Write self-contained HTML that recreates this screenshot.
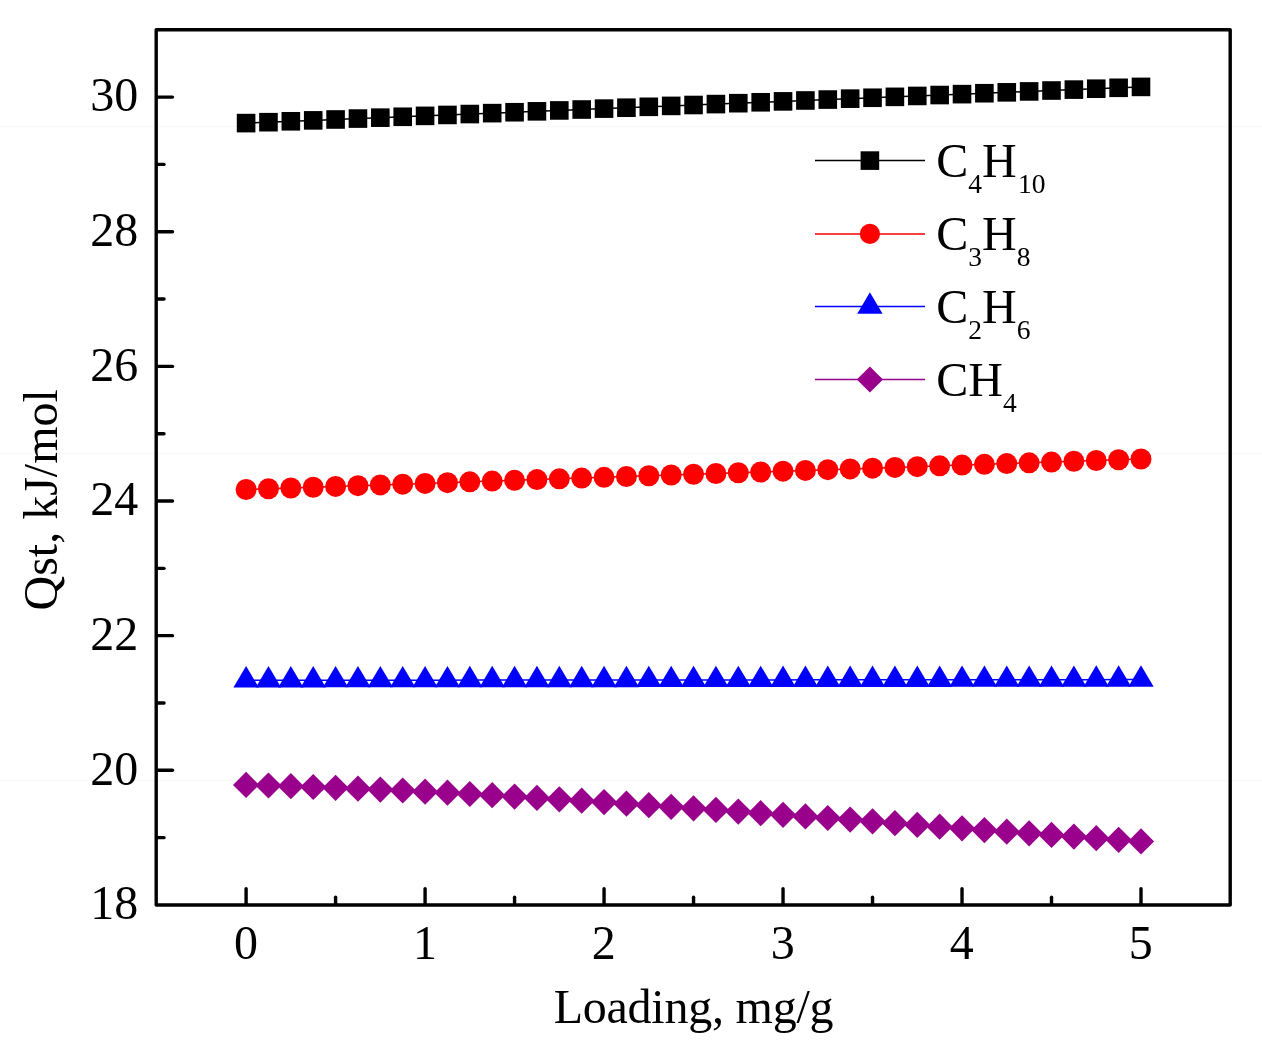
<!DOCTYPE html>
<html lang="en"><head><meta charset="utf-8"><title>Qst vs Loading</title>
<style>html,body{margin:0;padding:0;background:#fff;}svg{display:block;}text{font-family:"Liberation Serif", "Times New Roman", serif;fill:#000;}</style>
</head><body>
<svg width="1262" height="1054" viewBox="0 0 1262 1054">
<rect x="0" y="0" width="1262" height="1054" fill="#ffffff"/>
<g stroke="#f8f8f8" stroke-width="1"><line x1="0" y1="126.4" x2="1262" y2="126.4"/><line x1="0" y1="453.4" x2="1262" y2="453.4"/><line x1="0" y1="780.4" x2="1262" y2="780.4"/></g>
<g id="s-c4h10">
<polyline points="246.1,123.1 268.47,122.19 290.84,121.29 313.22,120.38 335.59,119.48 357.96,118.57 380.33,117.67 402.71,116.76 425.08,115.86 447.45,114.95 469.82,114.05 492.2,113.14 514.57,112.24 536.94,111.33 559.31,110.43 581.69,109.52 604.06,108.62 626.43,107.71 648.8,106.81 671.18,105.9 693.55,105 715.92,104.09 738.29,103.19 760.67,102.28 783.04,101.38 805.41,100.47 827.78,99.57 850.16,98.66 872.53,97.76 894.9,96.85 917.27,95.95 939.65,95.04 962.02,94.14 984.39,93.23 1006.76,92.33 1029.14,91.42 1051.51,90.52 1073.88,89.61 1096.25,88.71 1118.63,87.8 1141,86.9" fill="none" stroke="#000" stroke-width="1.5"/>
<rect x="236.8" y="113.8" width="18.6" height="18.6" fill="#000"/>
<rect x="259.17" y="112.89" width="18.6" height="18.6" fill="#000"/>
<rect x="281.54" y="111.99" width="18.6" height="18.6" fill="#000"/>
<rect x="303.92" y="111.08" width="18.6" height="18.6" fill="#000"/>
<rect x="326.29" y="110.18" width="18.6" height="18.6" fill="#000"/>
<rect x="348.66" y="109.27" width="18.6" height="18.6" fill="#000"/>
<rect x="371.03" y="108.37" width="18.6" height="18.6" fill="#000"/>
<rect x="393.41" y="107.46" width="18.6" height="18.6" fill="#000"/>
<rect x="415.78" y="106.56" width="18.6" height="18.6" fill="#000"/>
<rect x="438.15" y="105.65" width="18.6" height="18.6" fill="#000"/>
<rect x="460.52" y="104.75" width="18.6" height="18.6" fill="#000"/>
<rect x="482.9" y="103.84" width="18.6" height="18.6" fill="#000"/>
<rect x="505.27" y="102.94" width="18.6" height="18.6" fill="#000"/>
<rect x="527.64" y="102.03" width="18.6" height="18.6" fill="#000"/>
<rect x="550.01" y="101.13" width="18.6" height="18.6" fill="#000"/>
<rect x="572.39" y="100.22" width="18.6" height="18.6" fill="#000"/>
<rect x="594.76" y="99.32" width="18.6" height="18.6" fill="#000"/>
<rect x="617.13" y="98.41" width="18.6" height="18.6" fill="#000"/>
<rect x="639.5" y="97.51" width="18.6" height="18.6" fill="#000"/>
<rect x="661.88" y="96.6" width="18.6" height="18.6" fill="#000"/>
<rect x="684.25" y="95.7" width="18.6" height="18.6" fill="#000"/>
<rect x="706.62" y="94.79" width="18.6" height="18.6" fill="#000"/>
<rect x="729" y="93.89" width="18.6" height="18.6" fill="#000"/>
<rect x="751.37" y="92.98" width="18.6" height="18.6" fill="#000"/>
<rect x="773.74" y="92.08" width="18.6" height="18.6" fill="#000"/>
<rect x="796.11" y="91.17" width="18.6" height="18.6" fill="#000"/>
<rect x="818.49" y="90.27" width="18.6" height="18.6" fill="#000"/>
<rect x="840.86" y="89.36" width="18.6" height="18.6" fill="#000"/>
<rect x="863.23" y="88.46" width="18.6" height="18.6" fill="#000"/>
<rect x="885.6" y="87.55" width="18.6" height="18.6" fill="#000"/>
<rect x="907.98" y="86.65" width="18.6" height="18.6" fill="#000"/>
<rect x="930.35" y="85.74" width="18.6" height="18.6" fill="#000"/>
<rect x="952.72" y="84.84" width="18.6" height="18.6" fill="#000"/>
<rect x="975.09" y="83.93" width="18.6" height="18.6" fill="#000"/>
<rect x="997.47" y="83.03" width="18.6" height="18.6" fill="#000"/>
<rect x="1019.84" y="82.12" width="18.6" height="18.6" fill="#000"/>
<rect x="1042.21" y="81.22" width="18.6" height="18.6" fill="#000"/>
<rect x="1064.58" y="80.31" width="18.6" height="18.6" fill="#000"/>
<rect x="1086.95" y="79.41" width="18.6" height="18.6" fill="#000"/>
<rect x="1109.33" y="78.5" width="18.6" height="18.6" fill="#000"/>
<rect x="1131.7" y="77.6" width="18.6" height="18.6" fill="#000"/>
</g>
<g id="s-c3h8">
<polyline points="246.1,489.5 268.47,488.74 290.84,487.98 313.22,487.21 335.59,486.45 357.96,485.69 380.33,484.93 402.71,484.16 425.08,483.4 447.45,482.64 469.82,481.87 492.2,481.11 514.57,480.35 536.94,479.59 559.31,478.83 581.69,478.06 604.06,477.3 626.43,476.54 648.8,475.78 671.18,475.01 693.55,474.25 715.92,473.49 738.29,472.73 760.67,471.96 783.04,471.2 805.41,470.44 827.78,469.68 850.16,468.91 872.53,468.15 894.9,467.39 917.27,466.63 939.65,465.86 962.02,465.1 984.39,464.34 1006.76,463.58 1029.14,462.81 1051.51,462.05 1073.88,461.29 1096.25,460.53 1118.63,459.76 1141,459" fill="none" stroke="#ff0000" stroke-width="1.5"/>
<circle cx="246.1" cy="489.5" r="10.5" fill="#ff0000"/>
<circle cx="268.47" cy="488.74" r="10.5" fill="#ff0000"/>
<circle cx="290.84" cy="487.98" r="10.5" fill="#ff0000"/>
<circle cx="313.22" cy="487.21" r="10.5" fill="#ff0000"/>
<circle cx="335.59" cy="486.45" r="10.5" fill="#ff0000"/>
<circle cx="357.96" cy="485.69" r="10.5" fill="#ff0000"/>
<circle cx="380.33" cy="484.93" r="10.5" fill="#ff0000"/>
<circle cx="402.71" cy="484.16" r="10.5" fill="#ff0000"/>
<circle cx="425.08" cy="483.4" r="10.5" fill="#ff0000"/>
<circle cx="447.45" cy="482.64" r="10.5" fill="#ff0000"/>
<circle cx="469.82" cy="481.87" r="10.5" fill="#ff0000"/>
<circle cx="492.2" cy="481.11" r="10.5" fill="#ff0000"/>
<circle cx="514.57" cy="480.35" r="10.5" fill="#ff0000"/>
<circle cx="536.94" cy="479.59" r="10.5" fill="#ff0000"/>
<circle cx="559.31" cy="478.83" r="10.5" fill="#ff0000"/>
<circle cx="581.69" cy="478.06" r="10.5" fill="#ff0000"/>
<circle cx="604.06" cy="477.3" r="10.5" fill="#ff0000"/>
<circle cx="626.43" cy="476.54" r="10.5" fill="#ff0000"/>
<circle cx="648.8" cy="475.78" r="10.5" fill="#ff0000"/>
<circle cx="671.18" cy="475.01" r="10.5" fill="#ff0000"/>
<circle cx="693.55" cy="474.25" r="10.5" fill="#ff0000"/>
<circle cx="715.92" cy="473.49" r="10.5" fill="#ff0000"/>
<circle cx="738.29" cy="472.73" r="10.5" fill="#ff0000"/>
<circle cx="760.67" cy="471.96" r="10.5" fill="#ff0000"/>
<circle cx="783.04" cy="471.2" r="10.5" fill="#ff0000"/>
<circle cx="805.41" cy="470.44" r="10.5" fill="#ff0000"/>
<circle cx="827.78" cy="469.68" r="10.5" fill="#ff0000"/>
<circle cx="850.16" cy="468.91" r="10.5" fill="#ff0000"/>
<circle cx="872.53" cy="468.15" r="10.5" fill="#ff0000"/>
<circle cx="894.9" cy="467.39" r="10.5" fill="#ff0000"/>
<circle cx="917.27" cy="466.63" r="10.5" fill="#ff0000"/>
<circle cx="939.65" cy="465.86" r="10.5" fill="#ff0000"/>
<circle cx="962.02" cy="465.1" r="10.5" fill="#ff0000"/>
<circle cx="984.39" cy="464.34" r="10.5" fill="#ff0000"/>
<circle cx="1006.76" cy="463.58" r="10.5" fill="#ff0000"/>
<circle cx="1029.14" cy="462.81" r="10.5" fill="#ff0000"/>
<circle cx="1051.51" cy="462.05" r="10.5" fill="#ff0000"/>
<circle cx="1073.88" cy="461.29" r="10.5" fill="#ff0000"/>
<circle cx="1096.25" cy="460.53" r="10.5" fill="#ff0000"/>
<circle cx="1118.63" cy="459.76" r="10.5" fill="#ff0000"/>
<circle cx="1141" cy="459" r="10.5" fill="#ff0000"/>
</g>
<g id="s-c2h6">
<polyline points="246.1,680.3 268.47,680.28 290.84,680.26 313.22,680.25 335.59,680.23 357.96,680.21 380.33,680.19 402.71,680.18 425.08,680.16 447.45,680.14 469.82,680.12 492.2,680.11 514.57,680.09 536.94,680.07 559.31,680.05 581.69,680.04 604.06,680.02 626.43,680 648.8,679.99 671.18,679.97 693.55,679.95 715.92,679.93 738.29,679.91 760.67,679.9 783.04,679.88 805.41,679.86 827.78,679.85 850.16,679.83 872.53,679.81 894.9,679.79 917.27,679.78 939.65,679.76 962.02,679.74 984.39,679.72 1006.76,679.71 1029.14,679.69 1051.51,679.67 1073.88,679.65 1096.25,679.64 1118.63,679.62 1141,679.6" fill="none" stroke="#0000ff" stroke-width="1.5"/>
<polygon points="246.1,666.03 258.8,687.43 233.4,687.43" fill="#0000ff"/>
<polygon points="268.47,666.02 281.17,687.42 255.77,687.42" fill="#0000ff"/>
<polygon points="290.84,666 303.54,687.4 278.14,687.4" fill="#0000ff"/>
<polygon points="313.22,665.98 325.92,687.38 300.52,687.38" fill="#0000ff"/>
<polygon points="335.59,665.96 348.29,687.36 322.89,687.36" fill="#0000ff"/>
<polygon points="357.96,665.95 370.66,687.35 345.26,687.35" fill="#0000ff"/>
<polygon points="380.33,665.93 393.03,687.33 367.63,687.33" fill="#0000ff"/>
<polygon points="402.71,665.91 415.41,687.31 390.01,687.31" fill="#0000ff"/>
<polygon points="425.08,665.89 437.78,687.29 412.38,687.29" fill="#0000ff"/>
<polygon points="447.45,665.88 460.15,687.28 434.75,687.28" fill="#0000ff"/>
<polygon points="469.82,665.86 482.52,687.26 457.12,687.26" fill="#0000ff"/>
<polygon points="492.2,665.84 504.9,687.24 479.5,687.24" fill="#0000ff"/>
<polygon points="514.57,665.82 527.27,687.22 501.87,687.22" fill="#0000ff"/>
<polygon points="536.94,665.81 549.64,687.21 524.24,687.21" fill="#0000ff"/>
<polygon points="559.31,665.79 572.01,687.19 546.61,687.19" fill="#0000ff"/>
<polygon points="581.69,665.77 594.39,687.17 568.99,687.17" fill="#0000ff"/>
<polygon points="604.06,665.75 616.76,687.15 591.36,687.15" fill="#0000ff"/>
<polygon points="626.43,665.74 639.13,687.14 613.73,687.14" fill="#0000ff"/>
<polygon points="648.8,665.72 661.5,687.12 636.1,687.12" fill="#0000ff"/>
<polygon points="671.18,665.7 683.88,687.1 658.48,687.1" fill="#0000ff"/>
<polygon points="693.55,665.68 706.25,687.08 680.85,687.08" fill="#0000ff"/>
<polygon points="715.92,665.67 728.62,687.07 703.22,687.07" fill="#0000ff"/>
<polygon points="738.29,665.65 751,687.05 725.59,687.05" fill="#0000ff"/>
<polygon points="760.67,665.63 773.37,687.03 747.97,687.03" fill="#0000ff"/>
<polygon points="783.04,665.61 795.74,687.01 770.34,687.01" fill="#0000ff"/>
<polygon points="805.41,665.6 818.11,687 792.71,687" fill="#0000ff"/>
<polygon points="827.78,665.58 840.49,686.98 815.08,686.98" fill="#0000ff"/>
<polygon points="850.16,665.56 862.86,686.96 837.46,686.96" fill="#0000ff"/>
<polygon points="872.53,665.54 885.23,686.94 859.83,686.94" fill="#0000ff"/>
<polygon points="894.9,665.53 907.6,686.93 882.2,686.93" fill="#0000ff"/>
<polygon points="917.27,665.51 929.98,686.91 904.57,686.91" fill="#0000ff"/>
<polygon points="939.65,665.49 952.35,686.89 926.95,686.89" fill="#0000ff"/>
<polygon points="962.02,665.47 974.72,686.87 949.32,686.87" fill="#0000ff"/>
<polygon points="984.39,665.46 997.09,686.86 971.69,686.86" fill="#0000ff"/>
<polygon points="1006.76,665.44 1019.47,686.84 994.06,686.84" fill="#0000ff"/>
<polygon points="1029.14,665.42 1041.84,686.82 1016.44,686.82" fill="#0000ff"/>
<polygon points="1051.51,665.4 1064.21,686.8 1038.81,686.8" fill="#0000ff"/>
<polygon points="1073.88,665.39 1086.58,686.79 1061.18,686.79" fill="#0000ff"/>
<polygon points="1096.25,665.37 1108.95,686.77 1083.55,686.77" fill="#0000ff"/>
<polygon points="1118.63,665.35 1131.33,686.75 1105.93,686.75" fill="#0000ff"/>
<polygon points="1141,665.33 1153.7,686.73 1128.3,686.73" fill="#0000ff"/>
</g>
<g id="s-ch4">
<polyline points="246.1,784.9 268.47,785.5 290.84,786.2 313.22,787 335.59,787.8 357.96,788.7 380.33,789.6 402.71,790.5 425.08,791.7 447.45,792.7 469.82,794 492.2,795.2 514.57,796.6 536.94,797.97 559.31,799.35 581.69,800.73 604.06,802.1 626.43,803.66 648.8,805.22 671.18,806.78 693.55,808.34 715.92,809.9 738.29,811.53 760.67,813.17 783.04,814.8 805.41,816.4 827.78,818 850.16,819.6 872.53,821.37 894.9,823.13 917.27,824.9 939.65,826.63 962.02,828.37 984.39,830.1 1006.76,831.71 1029.14,833.33 1051.51,834.94 1073.88,836.56 1096.25,838.17 1118.63,839.79 1141,841.4" fill="none" stroke="#99008c" stroke-width="1.5"/>
<polygon points="246.1,771.8 259.2,784.9 246.1,798 233,784.9" fill="#99008c"/>
<polygon points="268.47,772.4 281.57,785.5 268.47,798.6 255.37,785.5" fill="#99008c"/>
<polygon points="290.84,773.1 303.94,786.2 290.84,799.3 277.74,786.2" fill="#99008c"/>
<polygon points="313.22,773.9 326.32,787 313.22,800.1 300.12,787" fill="#99008c"/>
<polygon points="335.59,774.7 348.69,787.8 335.59,800.9 322.49,787.8" fill="#99008c"/>
<polygon points="357.96,775.6 371.06,788.7 357.96,801.8 344.86,788.7" fill="#99008c"/>
<polygon points="380.33,776.5 393.44,789.6 380.33,802.7 367.23,789.6" fill="#99008c"/>
<polygon points="402.71,777.4 415.81,790.5 402.71,803.6 389.61,790.5" fill="#99008c"/>
<polygon points="425.08,778.6 438.18,791.7 425.08,804.8 411.98,791.7" fill="#99008c"/>
<polygon points="447.45,779.6 460.55,792.7 447.45,805.8 434.35,792.7" fill="#99008c"/>
<polygon points="469.82,780.9 482.93,794 469.82,807.1 456.72,794" fill="#99008c"/>
<polygon points="492.2,782.1 505.3,795.2 492.2,808.3 479.1,795.2" fill="#99008c"/>
<polygon points="514.57,783.5 527.67,796.6 514.57,809.7 501.47,796.6" fill="#99008c"/>
<polygon points="536.94,784.87 550.04,797.97 536.94,811.07 523.84,797.97" fill="#99008c"/>
<polygon points="559.31,786.25 572.41,799.35 559.31,812.45 546.21,799.35" fill="#99008c"/>
<polygon points="581.69,787.62 594.79,800.73 581.69,813.83 568.59,800.73" fill="#99008c"/>
<polygon points="604.06,789 617.16,802.1 604.06,815.2 590.96,802.1" fill="#99008c"/>
<polygon points="626.43,790.56 639.53,803.66 626.43,816.76 613.33,803.66" fill="#99008c"/>
<polygon points="648.8,792.12 661.9,805.22 648.8,818.32 635.7,805.22" fill="#99008c"/>
<polygon points="671.18,793.68 684.28,806.78 671.18,819.88 658.08,806.78" fill="#99008c"/>
<polygon points="693.55,795.24 706.65,808.34 693.55,821.44 680.45,808.34" fill="#99008c"/>
<polygon points="715.92,796.8 729.02,809.9 715.92,823 702.82,809.9" fill="#99008c"/>
<polygon points="738.29,798.43 751.39,811.53 738.29,824.63 725.19,811.53" fill="#99008c"/>
<polygon points="760.67,800.07 773.77,813.17 760.67,826.27 747.57,813.17" fill="#99008c"/>
<polygon points="783.04,801.7 796.14,814.8 783.04,827.9 769.94,814.8" fill="#99008c"/>
<polygon points="805.41,803.3 818.51,816.4 805.41,829.5 792.31,816.4" fill="#99008c"/>
<polygon points="827.78,804.9 840.88,818 827.78,831.1 814.68,818" fill="#99008c"/>
<polygon points="850.16,806.5 863.26,819.6 850.16,832.7 837.06,819.6" fill="#99008c"/>
<polygon points="872.53,808.27 885.63,821.37 872.53,834.47 859.43,821.37" fill="#99008c"/>
<polygon points="894.9,810.03 908,823.13 894.9,836.23 881.8,823.13" fill="#99008c"/>
<polygon points="917.27,811.8 930.38,824.9 917.27,838 904.17,824.9" fill="#99008c"/>
<polygon points="939.65,813.53 952.75,826.63 939.65,839.73 926.55,826.63" fill="#99008c"/>
<polygon points="962.02,815.27 975.12,828.37 962.02,841.47 948.92,828.37" fill="#99008c"/>
<polygon points="984.39,817 997.49,830.1 984.39,843.2 971.29,830.1" fill="#99008c"/>
<polygon points="1006.76,818.61 1019.87,831.71 1006.76,844.81 993.66,831.71" fill="#99008c"/>
<polygon points="1029.14,820.23 1042.24,833.33 1029.14,846.43 1016.04,833.33" fill="#99008c"/>
<polygon points="1051.51,821.84 1064.61,834.94 1051.51,848.04 1038.41,834.94" fill="#99008c"/>
<polygon points="1073.88,823.46 1086.98,836.56 1073.88,849.66 1060.78,836.56" fill="#99008c"/>
<polygon points="1096.25,825.07 1109.35,838.17 1096.25,851.27 1083.15,838.17" fill="#99008c"/>
<polygon points="1118.63,826.69 1131.73,839.79 1118.63,852.89 1105.53,839.79" fill="#99008c"/>
<polygon points="1141,828.3 1154.1,841.4 1141,854.5 1127.9,841.4" fill="#99008c"/>
</g>
<rect x="156.2" y="29.8" width="1074" height="875.15" fill="none" stroke="#000" stroke-width="3.4" stroke-linejoin="round"/>
<g stroke="#000" stroke-width="3.4" stroke-linecap="round">
<line x1="157.2" y1="837.63" x2="164" y2="837.63"/>
<line x1="157.2" y1="770.31" x2="172.5" y2="770.31"/>
<line x1="157.2" y1="702.99" x2="164" y2="702.99"/>
<line x1="157.2" y1="635.67" x2="172.5" y2="635.67"/>
<line x1="157.2" y1="568.35" x2="164" y2="568.35"/>
<line x1="157.2" y1="501.02" x2="172.5" y2="501.02"/>
<line x1="157.2" y1="433.7" x2="164" y2="433.7"/>
<line x1="157.2" y1="366.38" x2="172.5" y2="366.38"/>
<line x1="157.2" y1="299.06" x2="164" y2="299.06"/>
<line x1="157.2" y1="231.74" x2="172.5" y2="231.74"/>
<line x1="157.2" y1="164.42" x2="164" y2="164.42"/>
<line x1="157.2" y1="97.1" x2="172.5" y2="97.1"/>
<line x1="246.1" y1="903.95" x2="246.1" y2="888.65"/>
<line x1="335.59" y1="903.95" x2="335.59" y2="897.15"/>
<line x1="425.08" y1="903.95" x2="425.08" y2="888.65"/>
<line x1="514.57" y1="903.95" x2="514.57" y2="897.15"/>
<line x1="604.06" y1="903.95" x2="604.06" y2="888.65"/>
<line x1="693.55" y1="903.95" x2="693.55" y2="897.15"/>
<line x1="783.04" y1="903.95" x2="783.04" y2="888.65"/>
<line x1="872.53" y1="903.95" x2="872.53" y2="897.15"/>
<line x1="962.02" y1="903.95" x2="962.02" y2="888.65"/>
<line x1="1051.51" y1="903.95" x2="1051.51" y2="897.15"/>
<line x1="1141" y1="903.95" x2="1141" y2="888.65"/>
</g>
<g font-size="48" text-anchor="end">
<text transform="translate(138.3,919.25) scale(1,1.03)">18</text>
<text transform="translate(138.3,784.61) scale(1,1.03)">20</text>
<text transform="translate(138.3,649.97) scale(1,1.03)">22</text>
<text transform="translate(138.3,515.32) scale(1,1.03)">24</text>
<text transform="translate(138.3,380.68) scale(1,1.03)">26</text>
<text transform="translate(138.3,246.04) scale(1,1.03)">28</text>
<text transform="translate(138.3,111.4) scale(1,1.03)">30</text>
</g>
<g font-size="48" text-anchor="middle">
<text transform="translate(245.9,958.8) scale(1,1.03)">0</text>
<text transform="translate(424.88,958.8) scale(1,1.03)">1</text>
<text transform="translate(603.86,958.8) scale(1,1.03)">2</text>
<text transform="translate(782.84,958.8) scale(1,1.03)">3</text>
<text transform="translate(961.82,958.8) scale(1,1.03)">4</text>
<text transform="translate(1140.8,958.8) scale(1,1.03)">5</text>
</g>
<text x="693.6" y="1022.7" font-size="48" text-anchor="middle" textLength="279.9" lengthAdjust="spacing">Loading, mg/g</text>
<text transform="translate(57.2,499.8) rotate(-90)" font-size="48" text-anchor="middle">Qst, kJ/mol</text>
<line x1="815" y1="160.6" x2="925" y2="160.6" stroke="#000" stroke-width="1.5"/>
<line x1="815" y1="233.9" x2="925" y2="233.9" stroke="#ff0000" stroke-width="1.5"/>
<line x1="815" y1="306.6" x2="925" y2="306.6" stroke="#0000ff" stroke-width="1.5"/>
<line x1="815" y1="379.5" x2="925" y2="379.5" stroke="#99008c" stroke-width="1.5"/>
<rect x="860.6" y="151.3" width="18.6" height="18.6" fill="#000"/>
<circle cx="869.9" cy="233.9" r="10.1" fill="#ff0000"/>
<polygon points="869.9,292.33 882.6,313.73 857.2,313.73" fill="#0000ff"/>
<polygon points="869.9,366.4 883,379.5 869.9,392.6 856.8,379.5" fill="#99008c"/>
<text x="936.3" y="177" font-size="48"><tspan>C</tspan><tspan font-size="27.5" dy="16.2">4</tspan><tspan dy="-16.2">H</tspan><tspan font-size="27.5" dy="16.2" dx="1.3">10</tspan></text>
<text x="936.3" y="249.8" font-size="48"><tspan>C</tspan><tspan font-size="27.5" dy="16.2">3</tspan><tspan dy="-16.2">H</tspan><tspan font-size="27.5" dy="16.2">8</tspan></text>
<text x="936.3" y="322.65" font-size="48"><tspan>C</tspan><tspan font-size="27.5" dy="16.2">2</tspan><tspan dy="-16.2">H</tspan><tspan font-size="27.5" dy="16.2">6</tspan></text>
<text x="936.3" y="395.5" font-size="48"><tspan>CH</tspan><tspan font-size="27.5" dy="16.2">4</tspan></text>
</svg></body></html>
